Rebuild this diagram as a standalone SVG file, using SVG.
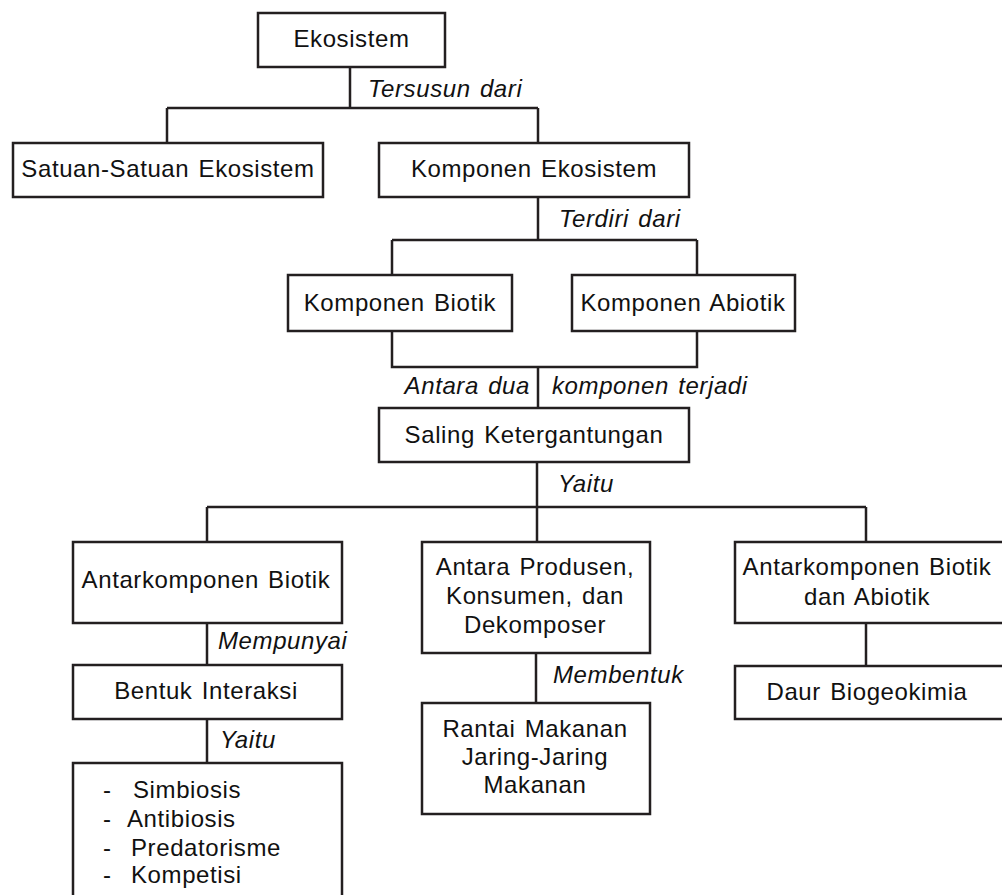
<svg xmlns="http://www.w3.org/2000/svg" width="1002" height="895" viewBox="0 0 1002 895">
<style>
rect.box{fill:#fff;stroke:#231f20;stroke-width:2.5}
.ln{fill:none;stroke:#231f20;stroke-width:2.5}
text{font-family:"Liberation Sans",Arial,sans-serif;font-size:24px;fill:#111;letter-spacing:0.6px;word-spacing:2px}
text.c{text-anchor:middle}
text.lab{font-style:italic}
</style>
<rect width="1002" height="895" fill="#fff"/>
<g id="connectors">
<path class="ln" d="M350,67V108M167,108H538M167,108V143M538,108V143"/>
<path class="ln" d="M538,197V240M392,240H697M392,240V275M697,240V275"/>
<path class="ln" d="M392,331V367H697V331M538,367V408"/>
<path class="ln" d="M537,462V507M207,507H866M207,507V542M537,507V542M866,507V542"/>
<path class="ln" d="M207,623V665M207,719V763"/>
<path class="ln" d="M536,653V703"/>
<path class="ln" d="M866,623V666"/>
<text class="lab" x="368" y="97">Tersusun dari</text>
<text class="lab" x="559" y="227">Terdiri dari</text>
<text class="lab" x="530" y="394" text-anchor="end">Antara dua</text>
<text class="lab" x="552" y="394">komponen terjadi</text>
<text class="lab" x="558" y="492">Yaitu</text>
<text class="lab" x="218" y="649">Mempunyai</text>
<text class="lab" x="220" y="748">Yaitu</text>
<text class="lab" x="553" y="683">Membentuk</text>
</g>
<g id="n-ekosistem"><rect class="box" x="258" y="13" width="187" height="54"/><text class="c" x="351.5" y="47">Ekosistem</text></g>
<g id="n-satuan"><rect class="box" x="13" y="143" width="310" height="54"/><text class="c" x="168" y="177">Satuan-Satuan Ekosistem</text></g>
<g id="n-komponen"><rect class="box" x="379" y="143" width="310" height="54"/><text class="c" x="534" y="177">Komponen Ekosistem</text></g>
<g id="n-biotik"><rect class="box" x="288" y="275" width="224" height="56"/><text class="c" x="400" y="311">Komponen Biotik</text></g>
<g id="n-abiotik"><rect class="box" x="572" y="275" width="223" height="56"/><text class="c" x="683" y="311">Komponen Abiotik</text></g>
<g id="n-saling"><rect class="box" x="379" y="408" width="310" height="54"/><text class="c" x="534" y="443">Saling Ketergantungan</text></g>
<g id="n-antarbiotik"><rect class="box" x="73" y="542" width="269" height="81"/><text class="c" x="206" y="588">Antarkomponen Biotik</text></g>
<g id="n-produsen"><rect class="box" x="422" y="542" width="228" height="111"/><text class="c" x="535" y="575">Antara Produsen,</text><text class="c" x="535" y="604">Konsumen, dan</text><text class="c" x="535" y="633">Dekomposer</text></g>
<g id="n-antarabiotik"><rect class="box" x="735" y="542" width="269" height="81"/><text class="c" x="867" y="575">Antarkomponen Biotik</text><text class="c" x="867" y="605">dan Abiotik</text></g>
<g id="n-bentuk"><rect class="box" x="73" y="665" width="269" height="54"/><text class="c" x="206" y="699">Bentuk Interaksi</text></g>
<g id="n-rantai"><rect class="box" x="422" y="703" width="228" height="111"/><text class="c" x="535" y="737">Rantai Makanan</text><text class="c" x="535" y="765">Jaring-Jaring</text><text class="c" x="535" y="793">Makanan</text></g>
<g id="n-daur"><rect class="box" x="735" y="666" width="269" height="53"/><text class="c" x="867" y="700">Daur Biogeokimia</text></g>
<g id="n-list"><rect class="box" x="73" y="763" width="269" height="140"/>
<text x="103" y="798">-</text><text x="133" y="798">Simbiosis</text>
<text x="103" y="827">-</text><text x="127" y="827">Antibiosis</text>
<text x="103" y="856">-</text><text x="131" y="856">Predatorisme</text>
<text x="103" y="883">-</text><text x="131" y="883">Kompetisi</text>
</g>
</svg>
